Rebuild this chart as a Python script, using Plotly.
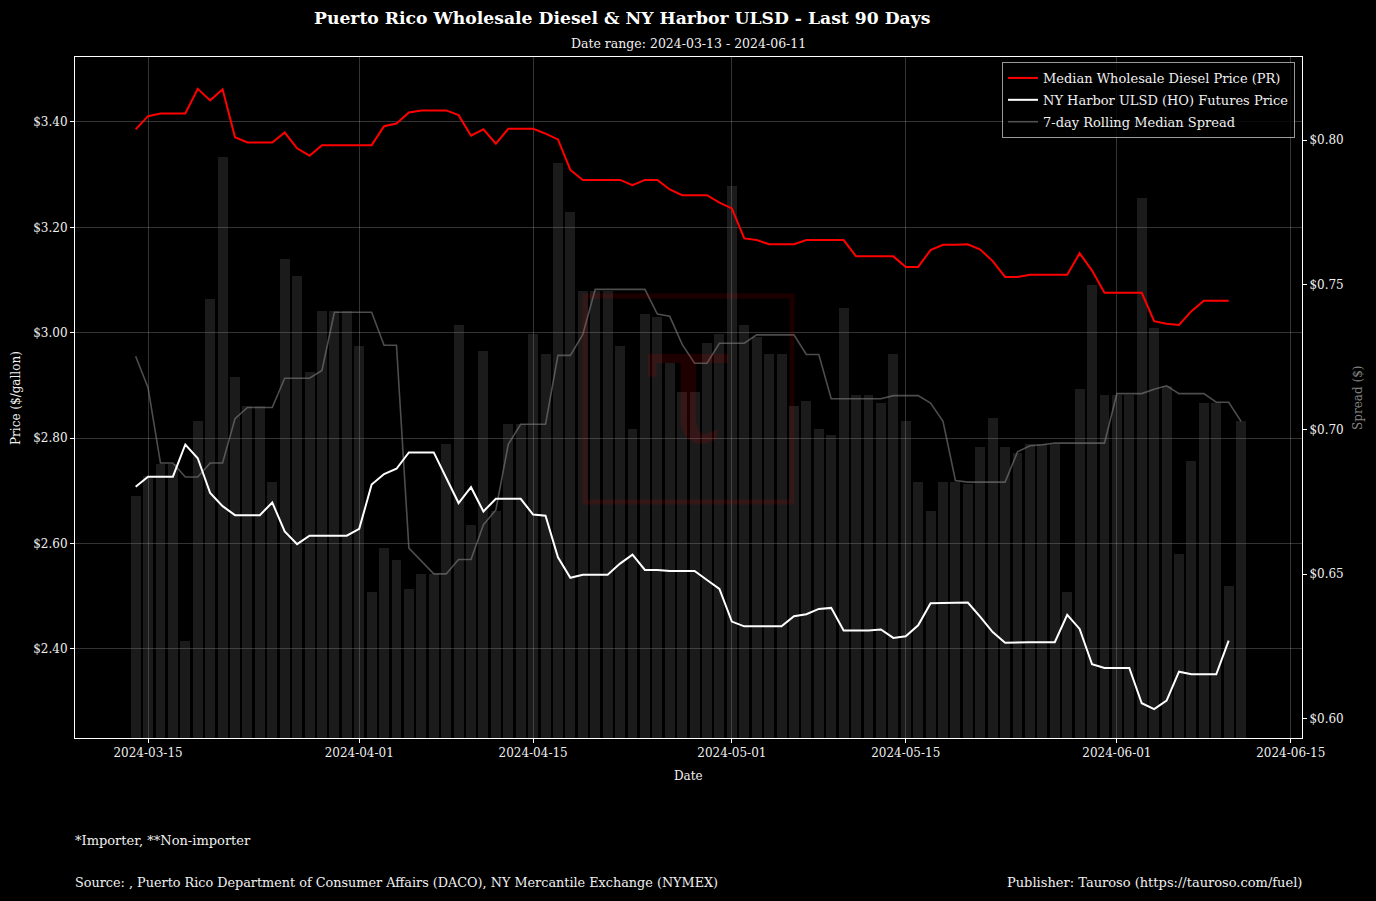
import pandas as pd
import plotly.graph_objects as go

# ---------------- data ----------------
bar_dates = pd.date_range("2024-03-14", "2024-06-11", freq="D")
line_dates = pd.date_range("2024-03-14", "2024-06-10", freq="D")

pr_price = [3.386, 3.411, 3.416, 3.416, 3.416, 3.463, 3.441, 3.462, 3.371, 3.361,
            3.361, 3.361, 3.380, 3.350, 3.336, 3.356, 3.356, 3.356, 3.356, 3.356,
            3.392, 3.397, 3.418, 3.422, 3.422, 3.422, 3.413, 3.374, 3.386, 3.359,
            3.387, 3.387, 3.387, 3.378, 3.367, 3.309, 3.290, 3.290, 3.290, 3.290,
            3.280, 3.290, 3.290, 3.272, 3.261, 3.261, 3.261, 3.247, 3.236, 3.179,
            3.176, 3.168, 3.168, 3.168, 3.176, 3.176, 3.176, 3.176, 3.145, 3.145,
            3.145, 3.145, 3.125, 3.125, 3.157, 3.167, 3.167, 3.168, 3.158, 3.136,
            3.106, 3.106, 3.110, 3.110, 3.110, 3.110, 3.151, 3.118, 3.076, 3.076,
            3.076, 3.076, 3.022, 3.017, 3.015, 3.041, 3.061, 3.061, 3.061]

ho_price = [2.708, 2.727, 2.727, 2.727, 2.788, 2.762, 2.696, 2.671, 2.654, 2.654,
            2.654, 2.678, 2.623, 2.599, 2.615, 2.615, 2.615, 2.615, 2.628, 2.712,
            2.732, 2.742, 2.773, 2.773, 2.773, 2.725, 2.677, 2.707, 2.661, 2.685,
            2.685, 2.685, 2.655, 2.653, 2.574, 2.535, 2.541, 2.541, 2.541, 2.562,
            2.579, 2.550, 2.550, 2.548, 2.548, 2.548, 2.531, 2.514, 2.452, 2.443,
            2.443, 2.443, 2.443, 2.462, 2.466, 2.476, 2.478, 2.435, 2.435, 2.435,
            2.437, 2.421, 2.424, 2.445, 2.487, 2.487, 2.487, 2.488, 2.461, 2.432,
            2.412, 2.413, 2.413, 2.413, 2.413, 2.465, 2.438, 2.371, 2.364, 2.364,
            2.364, 2.297, 2.286, 2.302, 2.357, 2.352, 2.352, 2.352, 2.416]

spread = [0.677, 0.684, 0.688, 0.688, 0.627, 0.703, 0.745, 0.794, 0.718, 0.708,
          0.708, 0.682, 0.759, 0.753, 0.720, 0.741, 0.741, 0.741, 0.729, 0.644,
          0.659, 0.655, 0.645, 0.650, 0.650, 0.695, 0.736, 0.667, 0.727, 0.672,
          0.702, 0.702, 0.733, 0.726, 0.792, 0.775, 0.748, 0.748, 0.748, 0.729,
          0.700, 0.740, 0.739, 0.723, 0.713, 0.713, 0.730, 0.733, 0.784, 0.736,
          0.732, 0.726, 0.726, 0.708, 0.710, 0.700, 0.698, 0.742, 0.712, 0.712,
          0.709, 0.726, 0.703, 0.682, 0.672, 0.682, 0.682, 0.681, 0.694, 0.704,
          0.694, 0.692, 0.695, 0.695, 0.695, 0.644, 0.714, 0.750, 0.712, 0.712,
          0.712, 0.780, 0.735, 0.715, 0.657, 0.689, 0.709, 0.709, 0.646, 0.703]

rolling_spread = [0.7253, 0.7144, 0.6884, 0.6884, 0.6836, 0.6836, 0.6884, 0.6884, 0.7037, 0.7076,
                  0.7076, 0.7076, 0.7177, 0.7177, 0.7177, 0.7204, 0.7405, 0.7405, 0.7405, 0.7405,
                  0.7291, 0.7291, 0.6590, 0.6546, 0.6501, 0.6501, 0.6551, 0.6551, 0.6671, 0.6722,
                  0.6949, 0.7018, 0.7018, 0.7018, 0.7256, 0.7256, 0.7328, 0.7484, 0.7484, 0.7484,
                  0.7484, 0.7484, 0.7399, 0.7391, 0.7294, 0.7229, 0.7229, 0.7298, 0.7298, 0.7298,
                  0.7327, 0.7327, 0.7327, 0.7327, 0.7259, 0.7259, 0.7106, 0.7106, 0.7106, 0.7106,
                  0.7106, 0.7117, 0.7117, 0.7117, 0.7091, 0.7028, 0.6824, 0.6818, 0.6818, 0.6818,
                  0.6818, 0.6923, 0.6944, 0.6947, 0.6953, 0.6953, 0.6953, 0.6953, 0.6953, 0.7124,
                  0.7124, 0.7124, 0.7139, 0.7151, 0.7124, 0.7124, 0.7124, 0.7094, 0.7094, 0.7028]

x_tick_dates = ["2024-03-15", "2024-04-01", "2024-04-15", "2024-05-01",
                "2024-05-15", "2024-06-01", "2024-06-15"]
price_ticks = [2.40, 2.60, 2.80, 3.00, 3.20, 3.40]
spread_ticks = [0.60, 0.65, 0.70, 0.75, 0.80]

FONT = "DejaVu Serif"
TXT = "#f0f0f0"

fig = go.Figure()

fig.add_trace(go.Bar(
    x=bar_dates, y=spread, yaxis="y", width=0.8 * 86400000,
    marker=dict(color="rgba(128,128,128,0.21)", line=dict(width=0)),
    showlegend=False, name="Spread"))

fig.add_trace(go.Scatter(
    x=bar_dates, y=rolling_spread, yaxis="y", mode="lines",
    line=dict(color="rgba(128,128,128,0.6)", width=1.6),
    name="7-day Rolling Median Spread", legendrank=3, legendgroup="c"))

fig.add_trace(go.Scatter(
    x=line_dates, y=pr_price, yaxis="y2", mode="lines",
    line=dict(color="#ff0000", width=2),
    name="Median Wholesale Diesel Price (PR)", legendrank=1, legendgroup="a"))

fig.add_trace(go.Scatter(
    x=line_dates, y=ho_price, yaxis="y2", mode="lines",
    line=dict(color="#ffffff", width=2),
    name="NY Harbor ULSD (HO) Futures Price", legendrank=2, legendgroup="b"))

axis_common = dict(showline=True, linecolor="white", linewidth=1, ticks="outside",
                   ticklen=4, tickcolor="white", zeroline=False,
                   tickfont=dict(family=FONT, size=12, color=TXT))

fig.update_layout(
    width=1376, height=901,
    margin=dict(l=75, r=74, t=57, b=163),
    paper_bgcolor="black", plot_bgcolor="black",
    font=dict(family=FONT, color=TXT, size=12),
    bargap=0,
    xaxis=dict(type="date", range=["2024-03-09 02:50", "2024-06-15 21:40"],
               tickvals=x_tick_dates, tickformat="%Y-%m-%d",
               showgrid=True, gridcolor="rgba(255,255,255,0.2)", gridwidth=1,
               mirror=True, **axis_common),
    yaxis=dict(side="right", range=[0.5934, 0.8287], tickmode="array",
               tickvals=spread_ticks, ticktext=["&#36;%.2f" % v for v in spread_ticks],
               showgrid=False, **axis_common),
    yaxis2=dict(side="left", overlaying="y", range=[2.2311, 3.5233], tickmode="array",
                tickvals=price_ticks, ticktext=["&#36;%.2f" % v for v in price_ticks],
                showgrid=True, gridcolor="rgba(255,255,255,0.2)", gridwidth=1,
                **axis_common),
    legend=dict(x=0.9943, xanchor="right", y=0.9927, yanchor="top",
                bgcolor="rgba(0,0,0,0.8)", bordercolor="rgba(255,255,255,0.6)",
                borderwidth=1, font=dict(family=FONT, size=13, color=TXT),
                tracegroupgap=2),
    showlegend=True,
)

ann = [
    dict(text="<b>Puerto Rico Wholesale Diesel & NY Harbor ULSD - Last 90 Days</b>",
         x=0.4454, y=1.0573, size=17.2, color="white"),
    dict(text="Date range: 2024-03-13 - 2024-06-11", x=0.4996, y=1.0191, size=12.5, color=TXT),
    dict(text="Date", x=0.4996, y=-0.0558, size=12, color=TXT),
]
for a in ann:
    fig.add_annotation(text=a["text"], xref="paper", yref="paper", x=a["x"], y=a["y"],
                       xanchor="center", yanchor="middle", showarrow=False,
                       font=dict(family=FONT, size=a["size"], color=a["color"]))

fig.add_annotation(text="Price ($/gallon)", xref="paper", yref="paper", x=-0.0481, y=0.4993,
                   textangle=-90, showarrow=False, xanchor="center", yanchor="middle",
                   font=dict(family=FONT, size=12, color=TXT))
fig.add_annotation(text="Spread ($)", xref="paper", yref="paper", x=1.0456, y=0.4993,
                   textangle=-90, showarrow=False, xanchor="center", yanchor="middle",
                   font=dict(family=FONT, size=12, color="#808080"))

fig.add_annotation(text="*Importer, **Non-importer", xref="paper", yref="paper",
                   x=0, y=-0.1512, xanchor="left", yanchor="middle", showarrow=False,
                   xshift=-2, font=dict(family=FONT, size=13, color=TXT))
fig.add_annotation(text="Source: , Puerto Rico Department of Consumer Affairs (DACO), NY Mercantile Exchange (NYMEX)",
                   xref="paper", yref="paper", x=0, y=-0.2115, xanchor="left", yanchor="middle",
                   xshift=-2, showarrow=False, font=dict(family=FONT, size=12.8, color=TXT))
fig.add_annotation(text="Publisher: Tauroso (https://tauroso.com/fuel)", xref="paper", yref="paper",
                   x=1, y=-0.2115, xanchor="right", yanchor="middle", showarrow=False,
                   xshift=2, font=dict(family=FONT, size=13, color=TXT))

# watermark logo
fig.add_shape(type="rect", xref="paper", yref="paper", x0=0.4156, x1=0.5844, y0=0.3465, y1=0.649,
              line=dict(color="rgba(255,0,0,0.11)", width=5), layer="above")
fig.add_annotation(text="τ", xref="paper", yref="paper", x=0.4996, y=0.52,
                   xanchor="center", yanchor="middle", showarrow=False,
                   font=dict(family=FONT, size=170, color="rgba(220,0,0,0.14)"))

fig.write_html("out.html")
